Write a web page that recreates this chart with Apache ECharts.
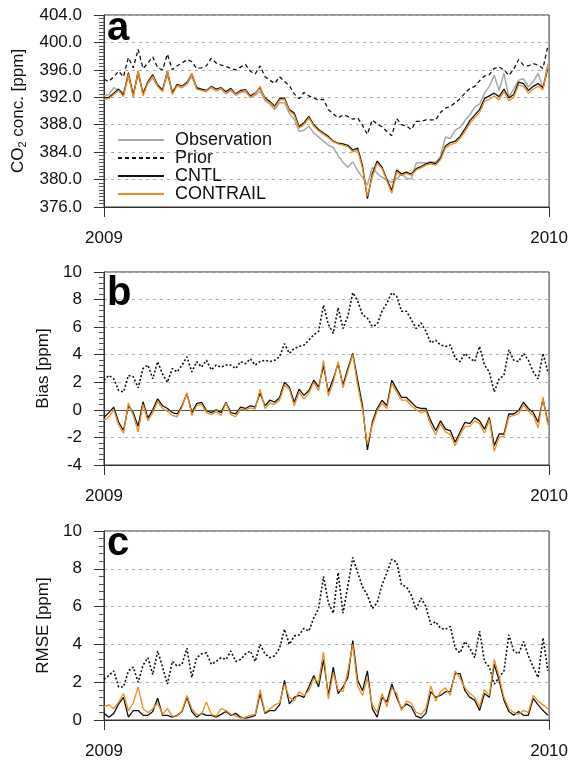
<!DOCTYPE html>
<html><head><meta charset="utf-8">
<script src="https://cdn.jsdelivr.net/npm/echarts@6/dist/echarts.min.js"></script>
<style>html,body{margin:0;padding:0;background:#fff}#c{width:571px;height:760px}</style>
</head><body><div id="c"></div>
<script>
// day of year for each sample (every 4 days through 2009)
const days = [
0,4,8,12,16,20,24,28,32,36,
40,44,48,52,56,60,64,68,72,76,
80,84,88,92,96,100,104,108,112,116,
120,124,128,132,136,140,144,148,152,156,
160,164,168,172,176,180,184,188,192,196,
200,204,208,212,216,220,224,228,232,236,
240,244,248,252,256,260,264,268,272,276,
280,284,288,292,296,300,304,308,312,316,
320,324,328,332,336,340,344,348,352,356,
360,364];
const xTickLabels = ['2009','2010'];

// Panel a: CO2 concentration [ppm]
const obsA = [
392.2,392.4,393.4,393.0,392.6,395.0,392.6,395.2,392.8,394.0,
394.8,393.6,393.2,395.2,392.9,393.6,393.4,393.9,395.0,393.3,
393.0,392.8,393.4,392.9,393.2,392.5,393.0,392.3,392.7,392.8,
392.0,392.3,392.9,391.5,391.0,390.2,391.2,391.2,389.6,388.8,
387.0,387.2,387.8,386.8,386.2,385.6,385.0,384.7,383.5,382.5,
381.8,382.6,381.3,380.3,379.2,381.8,380.9,380.3,380.0,379.6,
380.1,380.8,380.2,380.1,382.4,382.5,382.4,382.6,382.5,383.4,
386.2,386.0,387.2,387.6,388.6,389.4,390.6,391.0,392.6,393.6,
395.2,393.0,395.5,392.0,393.2,394.5,394.7,393.5,394.3,395.5,
393.3,396.9];
const priorA = [
394.6,394.3,395.0,395.8,395.0,397.8,396.3,399.0,396.2,397.0,
397.9,396.3,396.0,398.3,396.0,396.6,397.0,397.5,397.2,396.2,
396.3,396.6,397.7,397.0,396.7,396.5,396.2,396.0,396.4,396.8,
395.8,395.4,396.6,395.0,394.5,394.0,395.0,394.3,393.7,392.5,
391.8,392.7,392.2,391.9,391.6,391.7,390.2,389.6,389.0,389.4,
389.2,388.8,389.0,387.9,386.6,388.7,388.1,387.7,387.0,386.4,
388.9,388.0,387.8,387.3,388.5,388.5,388.7,388.7,388.7,389.8,
390.4,390.7,391.2,391.8,392.6,393.3,393.6,394.4,395.1,395.3,
396.2,396.4,396.0,395.2,396.1,397.5,396.7,396.6,396.9,396.7,
396.2,399.5];
const cntlA = [
391.9,392.0,392.6,393.2,392.3,395.6,392.2,395.8,392.4,394.3,
395.3,393.8,393.0,395.8,392.6,393.9,393.6,394.2,395.4,393.4,
393.2,393.0,393.6,393.2,393.4,392.8,393.3,392.5,393.0,393.1,
392.2,392.6,393.4,391.9,391.4,390.7,391.8,391.9,390.2,389.7,
387.7,388.3,389.2,388.0,387.3,386.8,386.3,385.6,385.3,385.2,
385.0,384.3,384.6,382.0,377.2,380.8,382.7,381.8,380.0,378.4,
381.4,380.8,381.1,380.8,381.6,381.9,382.3,382.5,382.3,383.1,
384.9,385.4,385.6,386.3,387.4,388.6,389.4,390.2,391.8,392.2,
392.6,392.1,393.2,391.9,392.4,394.2,394.0,393.0,393.6,394.0,
393.4,396.2];
const contrailA = [
391.7,391.8,392.4,393.0,392.1,395.4,392.0,395.9,392.2,394.1,
395.1,393.6,392.8,395.9,392.4,393.7,393.5,394.0,395.5,393.2,
393.0,392.9,393.5,393.0,393.3,392.6,393.1,392.4,392.8,393.0,
392.0,392.5,393.6,391.7,391.2,390.5,391.6,391.7,390.0,389.4,
387.5,388.0,389.0,387.8,387.1,386.6,386.1,385.5,385.2,385.0,
384.8,384.0,384.3,381.6,377.6,380.4,382.4,381.6,379.8,378.0,
381.1,380.6,380.9,380.6,381.4,381.7,382.1,382.3,382.1,382.9,
384.6,385.1,385.3,386.0,387.0,388.2,389.0,389.8,391.4,391.7,
392.2,391.6,392.8,391.5,392.0,393.8,393.6,392.6,393.2,393.6,
393.1,396.6];

// Panel b: Bias [ppm]
const priorB = [
2.15,2.5,2.25,1.4,1.3,2.5,2.4,1.6,3.0,3.25,
2.25,3.5,2.6,2.0,3.0,2.75,3.25,3.85,2.75,3.5,
3.1,3.6,2.9,3.25,3.1,3.25,3.25,3.0,3.5,3.35,
3.7,3.25,3.5,3.6,3.5,3.6,3.85,4.8,4.1,4.45,
4.6,4.7,5.05,5.45,5.7,7.6,6.2,5.55,7.4,5.9,
6.8,8.5,7.9,6.9,6.65,6.05,6.2,7.15,7.75,8.5,
8.25,7.15,7.15,6.55,5.9,6.3,5.7,4.85,5.05,4.7,
4.6,4.7,3.75,3.5,4.1,3.75,3.5,4.6,3.25,2.75,
1.3,2.25,2.5,4.35,3.6,3.5,4.1,3.6,2.75,2.25,
4.1,2.75];
const cntlB = [
-0.55,-0.2,0.2,-0.9,-1.5,0.3,-0.2,-1.2,0.6,-0.6,
0.0,0.8,0.3,0.1,-0.2,-0.3,0.3,1.2,-0.2,0.45,
0.55,-0.05,-0.2,0.0,-0.2,0.55,-0.2,-0.3,0.2,0.1,
0.3,0.2,1.2,0.3,0.7,0.55,0.9,2.0,1.65,0.55,
1.5,1.05,1.4,2.15,1.65,3.2,1.3,2.25,3.35,1.8,
3.0,4.1,2.15,0.3,-2.9,-0.9,0.1,0.7,0.3,2.15,
1.5,0.9,0.9,0.55,0.2,0.1,0.1,-0.8,-1.5,-0.8,
-1.4,-1.5,-2.35,-1.6,-0.9,-1.0,-0.55,-0.8,-1.4,-0.55,
-2.6,-1.75,-1.75,-0.3,-0.3,-0.05,0.55,0.1,-0.2,-0.9,
0.8,-0.9];
const contrailB = [
-0.75,-0.5,0.0,-1.1,-1.7,0.5,-0.4,-1.6,0.4,-0.8,
-0.2,0.6,0.1,-0.1,-0.4,-0.5,0.2,1.25,-0.4,0.3,
0.4,-0.2,-0.35,-0.15,-0.4,0.5,-0.35,-0.5,0.05,0.0,
0.15,0.05,1.5,0.1,0.5,0.4,0.7,1.8,1.5,0.3,
1.3,0.8,1.2,2.0,1.4,3.6,1.0,2.0,3.5,1.6,
2.8,4.0,1.8,0.0,-2.5,-1.1,-0.1,0.5,0.1,1.9,
1.3,0.7,0.7,0.3,0.0,-0.2,-0.1,-1.1,-1.8,-1.0,
-1.6,-1.8,-2.6,-1.8,-1.2,-1.2,-0.8,-1.0,-1.7,-0.7,
-3.0,-2.0,-1.9,-0.5,-0.4,-0.3,0.35,-0.1,-0.4,-1.3,
0.9,-1.1];

// Panel c: RMSE [ppm]
const priorC = [
2.15,2.35,2.6,1.75,1.75,2.6,2.8,2.0,2.9,3.3,
2.4,3.65,2.8,1.9,3.1,2.85,2.95,3.8,2.25,3.3,
3.5,3.55,2.95,3.1,3.3,3.2,3.65,3.1,3.2,3.5,
3.65,3.1,4.0,3.5,3.3,3.4,3.8,4.8,4.0,4.45,
4.5,4.85,4.7,5.4,5.9,7.6,6.2,5.65,7.8,5.65,
7.1,8.6,7.8,7.05,6.6,5.9,6.2,7.15,7.8,8.5,
8.35,7.15,7.05,6.6,5.85,6.45,6.0,5.05,5.2,4.85,
4.8,4.95,3.8,3.55,4.15,3.8,3.3,4.7,3.1,2.8,
1.9,2.25,2.6,4.5,3.65,3.5,4.15,3.4,2.8,2.25,
4.35,2.6];
const cntlC = [
0.35,0.15,0.35,0.85,1.2,0.15,0.5,0.5,0.25,0.25,
0.45,1.15,0.25,0.25,0.15,0.25,0.45,1.2,0.45,0.15,
0.35,0.25,0.25,0.15,0.3,0.45,0.25,0.35,0.15,0.1,
0.15,0.25,1.4,0.35,0.5,0.5,0.8,2.1,0.85,1.2,
1.3,1.2,1.75,2.35,1.75,3.2,1.3,2.8,1.4,1.75,
2.25,4.2,2.1,1.55,2.6,0.6,0.15,1.2,0.95,1.9,
1.2,0.6,0.85,0.7,0.2,0.1,0.35,1.5,1.2,1.3,
1.5,1.5,2.45,2.45,1.55,1.2,1.05,0.5,1.4,1.2,
2.95,2.1,1.05,0.45,0.25,0.45,0.25,0.25,1.15,0.8,
0.5,0.25];
const contrailC = [
0.7,0.8,0.6,0.95,1.4,0.5,0.9,1.75,0.6,0.4,
0.6,0.9,0.3,0.6,0.2,0.2,0.5,1.3,0.6,0.3,
0.3,0.95,0.3,0.2,0.6,0.5,0.3,0.2,0.1,0.15,
0.25,0.3,1.6,0.4,0.6,0.8,0.9,1.9,1.2,1.0,
1.5,1.3,1.55,2.2,2.0,3.6,1.1,2.5,1.6,1.5,
2.6,4.0,1.8,1.3,2.2,0.8,0.4,1.4,0.7,1.7,
1.4,0.5,1.0,0.9,0.4,0.3,0.6,1.8,1.0,1.5,
1.7,1.3,2.6,2.2,1.7,1.4,1.2,0.7,1.6,1.3,
3.2,2.3,1.2,0.6,0.4,0.3,0.5,0.4,1.3,1.0,
0.8,0.6];

const FONT = 'Liberation Sans';
const COL = {obs:'#a9a9a9', prior:'#111', cntl:'#111', contrail:'#f08c1e'};

function pts(arr){ return days.map((d,i)=>[d, arr[i]]); }
function line(name, arr, idx, color, width, type, z){
  return {type:'line', name, xAxisIndex:idx, yAxisIndex:idx, data:pts(arr),
    symbol:'none', lineStyle:{color, width, type}, itemStyle:{color}, z, animation:false};
}
function xAx(idx){
  return {type:'value', gridIndex:idx, min:0, max:365, interval:365,
    axisLine:{show:true, onZero:false, lineStyle:{color:'#333', width:1}},
    axisTick:{show:true, length:10, lineStyle:{color:'#333'}},
    splitLine:{show:false},
    axisLabel:{margin:23, color:'#111', fontFamily:FONT, fontSize:17,
      formatter:v => v===0 ? xTickLabels[0] : xTickLabels[1]}};
}
function yAx(idx, min, max, interval, minor, fmt, name, gap, rich){
  const o = {type:'value', gridIndex:idx, min, max, interval,
    axisLine:{show:true, lineStyle:{color:'#333', width:1}},
    axisTick:{show:true, length:10, lineStyle:{color:'#333'}},
    minorTick:{show:true, splitNumber:minor, length:5, lineStyle:{color:'#555'}},
    splitLine:{show:true, lineStyle:{color:'#b0b0b0', type:[3,4], width:1}},
    axisLabel:{margin:22, color:'#111', fontFamily:FONT, fontSize:17, formatter:fmt},
    name, nameLocation:'middle', nameGap:gap,
    nameTextStyle:{color:'#111', fontFamily:FONT, fontSize:17}};
  if (rich) o.nameTextStyle.rich = rich;
  return o;
}

const chart = echarts.init(document.getElementById('c'), null, {renderer:'canvas'});
chart.setOption({
  animation:false,
  backgroundColor:'#fff',
  grid:[
    {left:104, top:15, width:448, height:192, show:true, borderColor:'#333', borderWidth:1},
    {left:104, top:272, width:448, height:193, show:true, borderColor:'#333', borderWidth:1},
    {left:104, top:531, width:448, height:191, show:true, borderColor:'#333', borderWidth:1}
  ],
  xAxis:[xAx(0), xAx(1), xAx(2)],
  yAxis:[
    yAx(0, 376, 404, 4, 8, v=>v.toFixed(1), '{n|CO}{s|2}{n| conc. [ppm]}', 74,
      {n:{fontFamily:FONT, fontSize:17, lineHeight:20, color:'#111'},
       s:{fontFamily:FONT, fontSize:11, lineHeight:11, verticalAlign:'bottom', color:'#111'}}),
    yAx(1, -4, 10, 2, 5, v=>String(v), 'Bias [ppm]', 49),
    yAx(2, 0, 10, 2, 5, v=>String(v), 'RMSE [ppm]', 49)
  ],
  legend:{
    orient:'vertical', left:117, top:131, padding:0, itemGap:0,
    itemWidth:46, itemHeight:10,
    data:['Observation','Prior','CNTL','CONTRAIL'],
    itemStyle:{opacity:0, borderWidth:0},
    lineStyle:{width:2},
    textStyle:{fontFamily:FONT, fontSize:18, lineHeight:17, color:'#111', padding:[0,0,0,6]},
    selectedMode:false
  },
  graphic:[
    {type:'text', left:107, top:9, style:{text:'a', font:'bold 40px "Liberation Sans"', fill:'#000'}, z:100},
    {type:'text', left:107, top:274, style:{text:'b', font:'bold 40px "Liberation Sans"', fill:'#000'}, z:100},
    {type:'text', left:107, top:524, style:{text:'c', font:'bold 40px "Liberation Sans"', fill:'#000'}, z:100}
  ],
  series:[
    line('Observation', obsA, 0, COL.obs, 1.5, 'solid', 2),
    line('Prior', priorA, 0, COL.prior, 1.3, [4,3], 3),
    line('CNTL', cntlA, 0, COL.cntl, 1.3, 'solid', 4),
    line('CONTRAIL', contrailA, 0, COL.contrail, 1.3, 'solid', 5),
    Object.assign(line('Prior', priorB, 1, COL.prior, 1.6, [2,2], 3), {
      markLine:{silent:true, symbol:'none', label:{show:false},
        lineStyle:{color:'#555', width:1, type:'solid'}, data:[{yAxis:0}], animation:false}}),
    line('CNTL', cntlB, 1, COL.cntl, 1.3, 'solid', 4),
    line('CONTRAIL', contrailB, 1, COL.contrail, 1.3, 'solid', 5),
    line('Prior', priorC, 2, COL.prior, 1.6, [2,2], 3),
    line('CNTL', cntlC, 2, COL.cntl, 1.3, 'solid', 4),
    line('CONTRAIL', contrailC, 2, COL.contrail, 1.3, 'solid', 5)
  ]
});
</script></body></html>
